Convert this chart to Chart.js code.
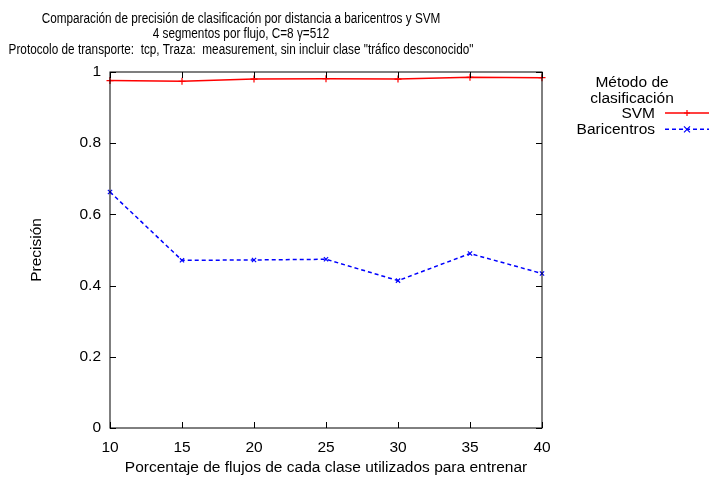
<!DOCTYPE html>
<html>
<head>
<meta charset="utf-8">
<script src="https://cdn.jsdelivr.net/npm/chart.js@4/dist/chart.umd.min.js"></script>
<style>
  html, body { margin: 0; padding: 0; background: #fff; }
  #wrap { width: 709px; height: 479px; }
</style>
</head>
<body>
<div id="wrap"><canvas id="grafica"></canvas></div>
<script>
// porcentaje de flujos usados para entrenar
const porcentajes = [10, 15, 20, 25, 30, 35, 40];
// precisión obtenida por cada método
const precisionSVM = [0.976, 0.974, 0.980, 0.981, 0.980, 0.985, 0.984];
const precisionBaricentros = [0.663, 0.471, 0.472, 0.474, 0.414, 0.490, 0.434];
const ticksY = [0, 0.2, 0.4, 0.6, 0.8, 1];

const titulo = [
  'Comparación de precisión de clasificación por distancia a baricentros y SVM',
  '4 segmentos por flujo, C=8 γ=512',
  'Protocolo de transporte:  tcp, Traza:  measurement, sin incluir clase "tráfico desconocido"'
];
const tituloLeyenda = ['Método de', 'clasificación'];

const FUENTE = '"Liberation Sans", Arial, sans-serif';
const TAM = 15.5;

function marcador(ctx, estilo, x, y, r) {
  ctx.beginPath();
  if (estilo === 'cross') {
    ctx.moveTo(x - r, y); ctx.lineTo(x + r, y);
    ctx.moveTo(x, y - r); ctx.lineTo(x, y + r);
  } else {
    ctx.moveTo(x - r, y - r); ctx.lineTo(x + r, y + r);
    ctx.moveTo(x - r, y + r); ctx.lineTo(x + r, y - r);
  }
  ctx.stroke();
}

// marco, marcas hacia dentro, título y leyenda al estilo gnuplot
const estiloGnuplot = {
  id: 'estiloGnuplot',
  afterDraw(chart) {
    const { ctx, chartArea: a, scales } = chart;
    ctx.save();
    ctx.strokeStyle = '#000';
    ctx.lineWidth = 1;
    ctx.setLineDash([]);
    ctx.strokeRect(a.left, a.top, a.right - a.left, a.bottom - a.top);

    const L = 6;
    ctx.beginPath();
    porcentajes.forEach((p) => {
      const x = Math.round(scales.x.getPixelForValue(p)) + 0.5;
      ctx.moveTo(x, a.bottom); ctx.lineTo(x, a.bottom - L);
      ctx.moveTo(x, a.top); ctx.lineTo(x, a.top + L);
    });
    ticksY.forEach((v) => {
      const y = Math.round(scales.y.getPixelForValue(v)) + 0.5;
      ctx.moveTo(a.left, y); ctx.lineTo(a.left + L, y);
      ctx.moveTo(a.right, y); ctx.lineTo(a.right - L, y);
    });
    ctx.stroke();

    // título en tres líneas, letra estrecha
    ctx.fillStyle = '#000';
    ctx.textAlign = 'center';
    ctx.textBaseline = 'alphabetic';
    ctx.save();
    ctx.translate(241, 0);
    ctx.scale(0.84, 1);
    ctx.font = '14px ' + FUENTE;
    titulo.forEach((t, i) => ctx.fillText(t, 0, 23 + i * 15.3));
    ctx.restore();

    // leyenda
    ctx.font = TAM + 'px ' + FUENTE;
    tituloLeyenda.forEach((t, i) => ctx.fillText(t, 632, 87 + i * 15.7));
    ctx.textAlign = 'right';
    chart.data.datasets.forEach((ds, i) => {
      const yb = 118 + i * 16.3;
      const yl = yb - 5;
      ctx.fillStyle = '#000';
      ctx.fillText(ds.label, 655, yb);
      ctx.strokeStyle = ds.borderColor;
      ctx.lineWidth = ds.borderWidth;
      ctx.setLineDash(ds.borderDash || []);
      ctx.beginPath();
      ctx.moveTo(665, yl); ctx.lineTo(709, yl);
      ctx.stroke();
      ctx.setLineDash([]);
      ctx.lineWidth = 1.2;
      marcador(ctx, ds.pointStyle, 687, yl, 3);
    });
    ctx.restore();
  }
};

new Chart(document.getElementById('grafica'), {
  type: 'line',
  data: {
    labels: porcentajes,
    datasets: [
      {
        label: 'SVM',
        data: precisionSVM,
        borderColor: '#ff0000',
        backgroundColor: '#ff0000',
        borderWidth: 1.5,
        pointStyle: 'cross',
        pointRadius: 3.5,
        pointBorderWidth: 1.2,
        tension: 0,
        clip: false
      },
      {
        label: 'Baricentros',
        data: precisionBaricentros,
        borderColor: '#0000ff',
        backgroundColor: '#0000ff',
        borderWidth: 1.5,
        borderDash: [4, 3],
        pointStyle: 'crossRot',
        pointRadius: 3,
        pointBorderWidth: 1.2,
        tension: 0,
        clip: false
      }
    ]
  },
  options: {
    responsive: true,
    maintainAspectRatio: false,
    animation: false,
    layout: { padding: { top: 72, right: 167, left: 0, bottom: 0 } },
    plugins: {
      legend: { display: false },
      title: { display: false },
      tooltip: { enabled: false }
    },
    scales: {
      x: {
        type: 'linear',
        min: 10,
        max: 40,
        afterFit: (s) => { s.height = 51; },
        afterBuildTicks: (s) => { s.ticks = porcentajes.map((v) => ({ value: v })); },
        grid: { display: false, drawTicks: false },
        border: { display: false },
        ticks: { color: '#000', padding: 10, maxRotation: 0, font: { family: FUENTE, size: TAM } },
        title: {
          display: true,
          text: 'Porcentaje de flujos de cada clase utilizados para entrenar',
          color: '#000',
          padding: { top: 0, bottom: 2 },
          font: { family: FUENTE, size: TAM }
        }
      },
      y: {
        min: 0,
        max: 1,
        afterFit: (s) => { s.width = 110; },
        afterBuildTicks: (s) => { s.ticks = ticksY.map((v) => ({ value: v })); },
        grid: { display: false, drawTicks: false },
        border: { display: false },
        ticks: {
          color: '#000',
          padding: 9,
          font: { family: FUENTE, size: TAM },
          callback: (v) => String(v)
        },
        title: {
          display: true,
          text: 'Precisión',
          color: '#000',
          padding: { top: 27, bottom: 0 },
          font: { family: FUENTE, size: TAM }
        }
      }
    }
  },
  plugins: [estiloGnuplot]
});
</script>
</body>
</html>
